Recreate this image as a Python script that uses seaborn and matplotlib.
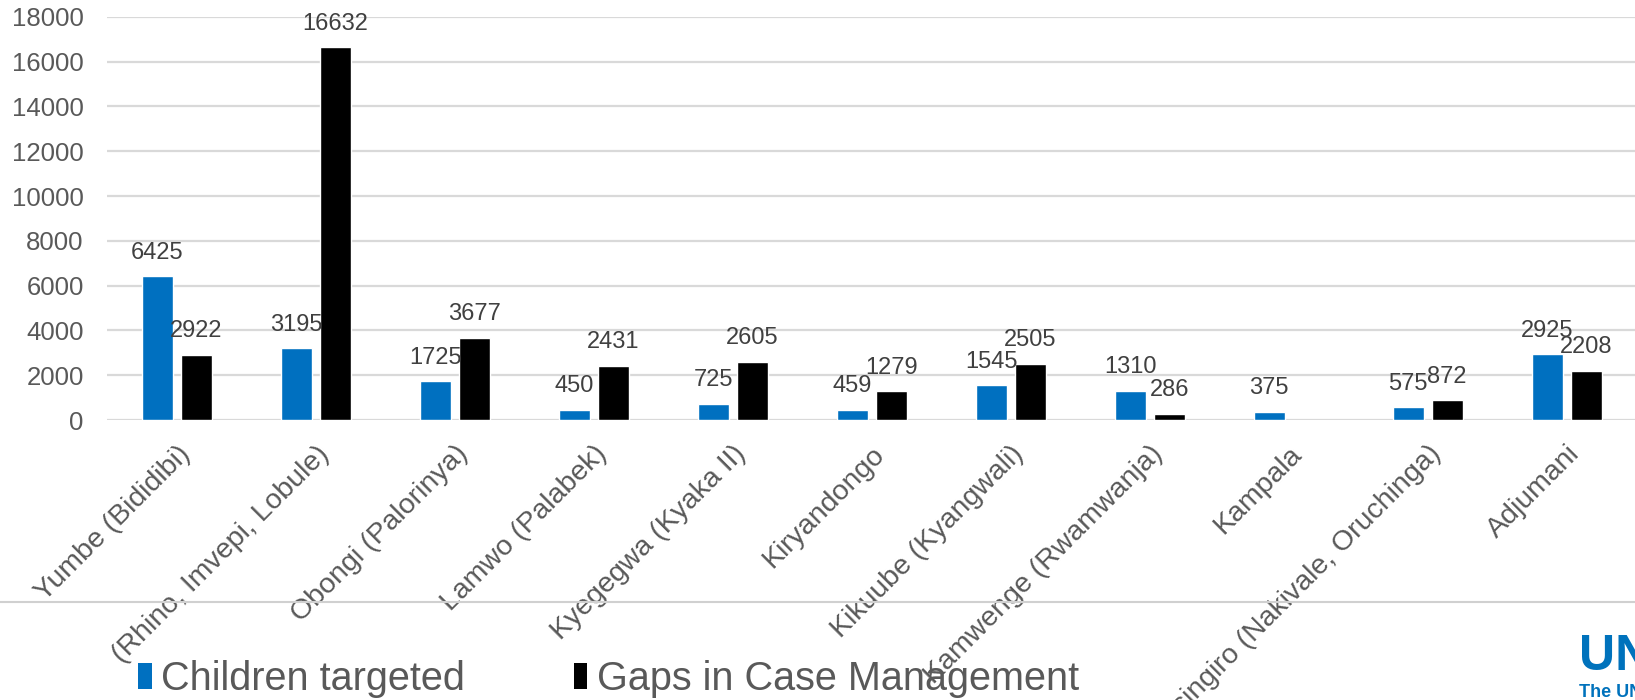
import numpy as np
import pandas as pd
import matplotlib
matplotlib.use('Agg')
import matplotlib.pyplot as plt
from matplotlib.patches import Patch
from matplotlib.lines import Line2D
import seaborn as sns

# Data
sites = ['Yumbe (Bididibi)', '(Rhino, Imvepi, Lobule)', 'Obongi (Palorinya)',
         'Lamwo (Palabek)', 'Kyegegwa (Kyaka II)', 'Kiryandongo',
         'Kikuube (Kyangwali)', 'Kamwenge (Rwamwanja)', 'Kampala',
         'Isingiro (Nakivale, Oruchinga)', 'Adjumani']
children_targeted = [6425, 3195, 1725, 450, 725, 459, 1545, 1310, 375, 575, 2925]
case_mgmt_gaps = [2922, 16632, 3677, 2431, 2605, 1279, 2505, 286, np.nan, 872, 2208]
series_names = ['Children targeted', 'Gaps in Case Management']
series_colors = ['#0070C0', '#000000']
y_ticks = [0, 2000, 4000, 6000, 8000, 10000, 12000, 14000, 16000, 18000]

df = pd.concat([
    pd.DataFrame({'site': sites, 'value': children_targeted, 'series': series_names[0]}),
    pd.DataFrame({'site': sites, 'value': case_mgmt_gaps, 'series': series_names[1]}),
]).dropna(subset=['value'])

sns.set_style('white')
plt.rcParams['font.family'] = ['Liberation Sans', 'DejaVu Sans']

fig = plt.figure(figsize=(16.35, 7), dpi=100)
ax = fig.add_axes([0.0657, 0.4, 0.935, 0.576])

sns.barplot(data=df, x='site', y='value', hue='series', order=sites,
            hue_order=series_names, palette=series_colors, width=0.56, gap=0.2,
            saturation=1, legend=False, ax=ax)

# value labels above each bar
for c in ax.containers:
    ax.bar_label(c, labels=[f'{b.get_height():.0f}' for b in c], padding=9,
                 fontsize=17, color='#404040')

ax.set_ylim(0, 18000)
ax.set_xlim(-0.5, len(sites) - 0.5)
ax.set_yticks(y_ticks)
ax.yaxis.grid(True, color='#D9D9D9', lw=1.6)
ax.set_axisbelow(True)
sns.despine(ax=ax, left=True, bottom=True)
ax.set_xlabel('')
ax.set_ylabel('')
ax.tick_params(axis='y', length=0, pad=17, labelsize=18.5, labelcolor='#595959')
ax.tick_params(axis='x', length=0, pad=15, labelsize=20.5, labelcolor='#595959')
plt.setp(ax.get_xticklabels(), rotation=45, ha='right', va='top',
         rotation_mode='anchor')

# separator line above the footer
fig.add_artist(Line2D([0, 1], [0.14, 0.14], color='#D0D0D0', lw=1.5))

handles = [Patch(facecolor=col, edgecolor='none') for col in series_colors]
fig.legend(handles, series_names, loc='center left', bbox_to_anchor=(0.075, 0.03),
           ncol=2, frameon=False, fontsize=28.5, labelcolor='#595959',
           handlelength=0.33, handleheight=0.65, handletextpad=0.25,
           columnspacing=2.75, borderaxespad=0)

# UNHCR wordmark (cut off at the right edge, as in the original)
fig.text(0.966, 0.062, 'UN', fontsize=36, fontweight='bold', color='#0072BC',
         ha='left', va='center')
fig.text(0.966, 0.011, 'The UN', fontsize=13, fontweight='bold', color='#0072BC',
         ha='left', va='center')

fig.savefig('out.png', dpi=100, facecolor='white')
